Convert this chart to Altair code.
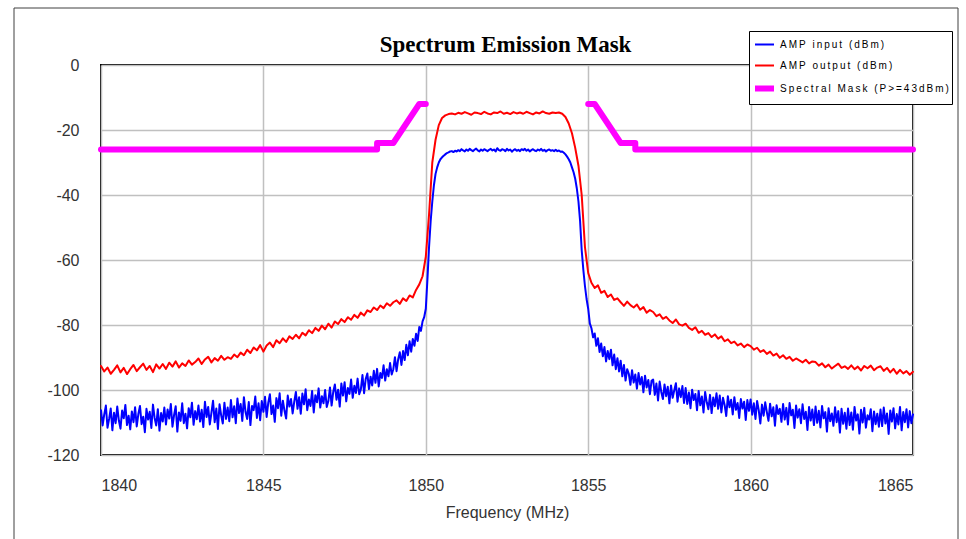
import altair as alt
import pandas as pd

# ---------------- data ----------------
series_names = ["AMP input (dBm)", "AMP output (dBm)", "Spectral Mask (P>=43dBm)"]
series_colors = ["#0000ff", "#ff0000", "#ff00ff"]
chart_title = "Spectrum Emission Mask"

# AMP input trace sampled every 0.05 MHz (1840 .. 1865), one row per MHz
freq_in = [round(1840 + 0.05 * i, 2) for i in range(501)]
input_dbm = [
    -106.2, -110.9, -107.5, -104.8, -111.6, -108.9, -105.7, -112.4, -107.0, -110.2, -105.1, -109.4, -111.9, -106.3, -108.7, -104.6, -110.8, -107.9, -112.1, -106.6,
    -109.9, -105.3, -111.2, -107.4, -104.9, -110.5, -108.2, -113.0, -105.8, -109.1, -106.7, -111.7, -104.5, -108.6, -110.9, -105.9, -112.5, -107.1, -109.7, -105.4,
    -110.6, -106.0, -108.8, -104.3, -111.3, -107.7, -105.0, -112.8, -106.9, -109.5, -104.1, -110.2, -107.3, -111.8, -105.6, -108.4, -103.9, -110.7, -106.5, -109.0,
    -104.8, -109.7, -106.1, -111.4, -103.6, -108.3, -105.2, -110.6, -107.0, -103.3, -109.9, -105.7, -112.0, -104.4, -107.8, -110.3, -103.9, -108.9, -105.4, -109.6,
    -103.1, -108.4, -105.0, -110.2, -102.6, -107.1, -104.3, -109.5, -102.2, -106.8, -108.9, -103.7, -110.8, -104.9, -106.2, -102.0, -108.6, -104.1, -109.3, -103.4,
    -106.7, -102.1, -108.3, -103.9, -101.3, -107.4, -104.8, -109.8, -102.5, -105.6, -101.0, -107.9, -103.3, -106.4, -108.8, -101.7, -105.1, -102.8, -107.2, -103.6,
    -100.6, -105.8, -102.2, -107.3, -101.1, -104.4, -99.8, -106.2, -102.9, -104.9, -100.3, -106.9, -101.6, -103.8, -99.5, -105.4, -101.9, -104.1, -100.0, -105.2,
    -103.4, -99.2, -104.8, -100.6, -98.3, -103.0, -99.9, -105.1, -98.0, -101.7, -97.6, -103.5, -99.4, -101.2, -96.8, -102.4, -98.7, -100.9, -96.5, -101.3,
    -99.8, -95.4, -101.0, -96.6, -94.9, -99.7, -95.9, -98.6, -94.1, -97.8, -93.5, -98.9, -94.8, -96.3, -92.4, -97.1, -93.6, -95.8, -91.7, -95.2,
    -93.6, -89.9, -94.2, -90.5, -88.4, -92.3, -88.0, -90.8, -86.1, -89.3, -85.0, -88.2, -84.3, -86.4, -82.7, -84.9, -80.6, -81.8, -78.9, -77.6,
    -75.0, -66.0, -56.0, -48.0, -42.0, -37.0, -33.5, -31.5, -30.0, -29.0, -28.4, -27.9, -27.5, -27.1, -26.9, -26.6, -26.5, -26.8, -26.4, -26.6,
    -26.2, -26.5, -25.9, -26.3, -26.6, -26.0, -26.4, -25.8, -26.2, -26.5, -26.1, -25.7, -26.3, -26.6, -26.0, -26.4, -25.9, -26.2, -26.5, -26.1,
    -25.8, -26.3, -26.0, -26.6, -25.6, -26.2, -26.4, -25.9, -26.1, -26.5, -25.8, -26.3, -26.0, -26.7, -26.2, -25.9, -26.4, -26.1, -26.5, -25.9,
    -26.2, -25.8, -26.4, -26.0, -26.6, -26.2, -25.9, -26.3, -26.5, -26.0, -26.3, -25.8, -26.4, -26.1, -26.6, -26.2, -26.0, -26.4, -26.2, -26.5,
    -26.1, -26.5, -26.3, -26.7, -26.6, -27.0, -27.5, -28.2, -29.0, -30.0, -31.5, -33.0, -35.0, -38.0, -42.0, -48.0, -57.0, -63.0, -68.0, -72.0,
    -75.0, -79.5, -81.0, -83.8, -82.6, -86.4, -84.1, -88.3, -85.7, -89.6, -86.8, -91.2, -88.0, -90.5, -87.6, -92.4, -89.1, -93.6, -90.2, -94.3,
    -91.0, -95.8, -92.3, -97.1, -93.6, -95.0, -98.4, -93.9, -97.7, -95.2, -99.6, -94.8, -98.3, -96.0, -100.7, -95.6, -99.2, -96.9, -101.3, -97.2,
    -96.8, -101.5, -98.0, -103.2, -97.4, -100.6, -102.8, -98.3, -101.9, -99.0, -104.1, -98.6, -102.4, -100.1, -97.9, -103.6, -99.5, -102.2, -98.8, -104.0,
    -99.4, -104.3, -100.8, -105.6, -99.9, -103.1, -101.2, -106.2, -100.3, -104.7, -102.0, -106.9, -100.6, -103.8, -105.9, -101.5, -107.1, -102.3, -105.0, -101.0,
    -105.8, -101.7, -106.9, -102.4, -104.6, -108.0, -101.9, -105.3, -103.0, -107.5, -102.2, -106.1, -104.0, -108.6, -102.8, -105.7, -103.6, -109.2, -103.1, -106.4,
    -102.9, -107.6, -104.1, -108.9, -103.4, -106.2, -110.3, -104.5, -107.9, -103.8, -106.8, -109.5, -104.2, -108.1, -105.3, -111.0, -104.7, -107.4, -105.8, -109.8,
    -104.3, -109.1, -105.5, -110.6, -104.0, -107.8, -106.1, -111.7, -104.8, -108.5, -105.9, -110.2, -104.4, -108.9, -106.7, -112.3, -105.2, -109.4, -106.0, -110.8,
    -105.1, -110.1, -106.4, -111.5, -104.9, -108.7, -106.8, -112.8, -105.6, -109.6, -107.2, -111.0, -105.3, -109.9, -106.5, -113.1, -105.8, -110.4, -107.0, -111.9,
    -105.7, -110.8, -106.9, -112.2, -105.2, -109.4, -107.5, -113.4, -106.1, -110.0, -105.5, -111.6, -107.8, -109.1, -105.9, -112.7, -106.6, -110.5, -107.3, -111.3,
    -106.0, -111.1, -105.4, -110.3, -107.2, -113.5, -106.3, -109.7, -105.6, -111.8, -107.4, -110.6, -105.2, -112.4, -106.8, -109.9, -105.9, -111.5, -106.5, -110.2,
    -107.5,
]

# AMP output trace sampled every 0.1 MHz (1840 .. 1865), one row per MHz
freq_out = [round(1840 + 0.1 * i, 1) for i in range(251)]
output_dbm = [
    -92.6, -94.3, -93.1, -95.0, -93.8, -92.4, -94.6, -93.2, -95.1, -93.6,
    -92.3, -94.2, -93.0, -91.9, -93.8, -92.6, -94.5, -92.1, -93.4, -92.0,
    -93.5, -91.6, -92.8, -91.2, -93.1, -91.8, -92.6, -90.9, -92.2, -91.4,
    -90.3, -92.0, -90.6, -89.8, -91.5, -90.2, -91.0, -89.5, -90.7, -89.9,
    -90.4, -89.1, -89.9, -88.5, -89.3, -87.6, -88.6, -86.9, -87.8, -86.2,
    -88.2, -86.3, -85.4, -86.8, -84.7, -85.6, -84.1, -85.2, -83.5, -84.3,
    -83.0, -84.1, -82.4, -83.2, -81.6, -82.5, -80.9, -81.8, -80.2, -81.3,
    -79.6, -80.8, -78.9, -79.7, -78.2, -79.1, -77.6, -78.4, -76.9, -77.8,
    -76.2, -77.1, -75.5, -76.0, -74.6, -75.4, -74.0, -74.8, -73.3, -74.1,
    -73.0, -72.4, -73.5, -71.8, -72.6, -70.9, -71.5, -69.2, -67.5, -65.0,
    -59.0, -46.0, -30.0, -23.0, -18.5, -16.3, -15.5, -15.1, -14.9, -15.2,
    -14.7, -15.0, -14.5, -14.9, -15.3, -14.6, -14.8, -15.1, -14.4, -14.9,
    -15.2, -14.6, -14.8, -14.3, -15.0, -14.7, -15.1, -14.5, -14.9, -14.6,
    -15.0, -14.4, -14.8, -15.2, -14.6, -14.9, -14.3, -14.8, -15.0, -14.6,
    -14.8, -14.6, -15.0, -16.0, -18.0, -21.0, -25.5, -31.0, -40.0, -56.0,
    -64.0, -67.0, -68.6, -67.8, -70.1, -69.5, -71.4, -70.6, -72.3, -71.8,
    -73.0, -74.1, -72.8, -73.9, -74.6, -73.7, -75.3, -74.5, -76.2, -75.4,
    -76.0, -77.3, -76.7, -78.1, -77.5, -78.6, -79.4, -78.3, -79.8, -80.2,
    -79.6, -80.9, -81.5, -80.7, -82.4, -81.8, -83.0, -82.5, -83.7, -82.9,
    -84.2, -83.5, -85.0, -84.4, -85.6, -85.1, -86.3, -85.7, -86.8, -86.0,
    -86.5, -87.6, -87.0, -88.3, -87.7, -88.9, -88.2, -89.4, -88.8, -90.1,
    -89.3, -90.4, -89.8, -91.0, -90.3, -90.9, -91.5, -90.7, -91.8, -91.2,
    -91.4, -92.5, -91.8, -93.0, -92.2, -93.4, -92.6, -91.9, -93.2, -92.7,
    -93.5, -92.4, -93.6, -92.8, -94.0, -92.6, -93.3, -92.5, -93.9, -93.1,
    -92.7, -94.1, -93.2, -94.6, -93.5, -95.0, -93.8, -94.9, -94.2, -95.3,
    -94.4,
]

mask_freq = [1840.0, 1848.5, 1848.5, 1849.0, 1849.8, 1850.0,
             1855.0, 1855.2, 1856.0, 1856.45, 1856.45, 1865.0]
mask_dbm = [-26.0, -26.0, -24.0, -24.0, -12.0, -12.0,
            -12.0, -12.0, -24.0, -24.0, -26.0, -26.0]
mask_part = ["L", "L", "L", "L", "L", "L", "R", "R", "R", "R", "R", "R"]

y_ticks = [-120, -100, -80, -60, -40, -20, 0]
x_ticks = [1840, 1845, 1850, 1855, 1860, 1865]

# ---------------- table ----------------
rows = []
k = 0
for f, v in zip(freq_in, input_dbm):
    rows.append({"freq": f, "dbm": v, "series": series_names[0], "part": "in", "idx": k}); k += 1
for f, v in zip(freq_out, output_dbm):
    rows.append({"freq": f, "dbm": v, "series": series_names[1], "part": "out", "idx": k}); k += 1
for f, v, p in zip(mask_freq, mask_dbm, mask_part):
    rows.append({"freq": f, "dbm": v, "series": series_names[2], "part": "mask" + p, "idx": k}); k += 1
df = pd.DataFrame(rows)

legend = alt.Legend(
    orient="none", legendX=648, legendY=-34, title=None,
    symbolType="stroke", symbolSize=361,
    labelFont="Liberation Sans", labelFontSize=10, labelColor="black", labelLimit=400,
    labelExpr="replace(datum.label, regexp('(.)(?=.)', 'g'), '$1\u2009')",
    labelOffset=3, padding=3, rowPadding=5,
    fillColor="white", strokeColor="black",
)

lines = alt.Chart(df).mark_line(strokeCap="round", strokeJoin="round").encode(
    x=alt.X("freq:Q", scale=alt.Scale(domain=[1840, 1865], nice=False, zero=False),
            axis=alt.Axis(values=x_ticks, labelExpr="datum.value + ''", title="Frequency (MHz)")),
    y=alt.Y("dbm:Q", scale=alt.Scale(domain=[-120, 0], nice=False),
            axis=alt.Axis(values=y_ticks, labelExpr="datum.value + ''", title=None)),
    color=alt.Color("series:N", scale=alt.Scale(domain=series_names, range=series_colors), legend=legend),
    strokeWidth=alt.StrokeWidth("series:N", scale=alt.Scale(type="ordinal", domain=series_names, range=[2, 2, 6]), legend=legend),
    detail="part:N",
    order=alt.Order("idx:Q"),
)

border = alt.Chart(pd.DataFrame({"a": [0]})).mark_rect(
    fillOpacity=0, stroke="#404040", strokeWidth=1
).encode(
    x=alt.value(-87), x2=alt.value(857), y=alt.value(-57), y2=alt.value(500)
)

title = alt.Chart(pd.DataFrame({"t": [chart_title]})).mark_text(
    font="Liberation Serif", fontSize=23, fontWeight="bold", color="black",
    align="center", baseline="alphabetic",
).encode(
    text="t:N", x=alt.value(404.5), y=alt.value(-13.5)
)

chart = alt.layer(lines, border, title).properties(
    width=812, height=390,
    autosize=alt.AutoSizeParams(type="none"),
    padding={"left": 101, "top": 65, "right": 53, "bottom": 84},
    background="white",
).configure_view(
    stroke="black", strokeWidth=2
).configure_axis(
    grid=True, gridColor="#c0c0c0", gridWidth=1.5,
    domain=False, ticks=False,
    labelFont="Liberation Sans", labelFontSize=16, labelColor="#333333",
    titleFont="Liberation Sans", titleFontSize=16, titleColor="#333333",
    titleFontWeight="normal",
).configure_axisX(
    labelPadding=22, titlePadding=11
).configure_axisY(
    labelPadding=22
)

chart.save("out.html", embed_options={"renderer": "svg", "actions": False})
